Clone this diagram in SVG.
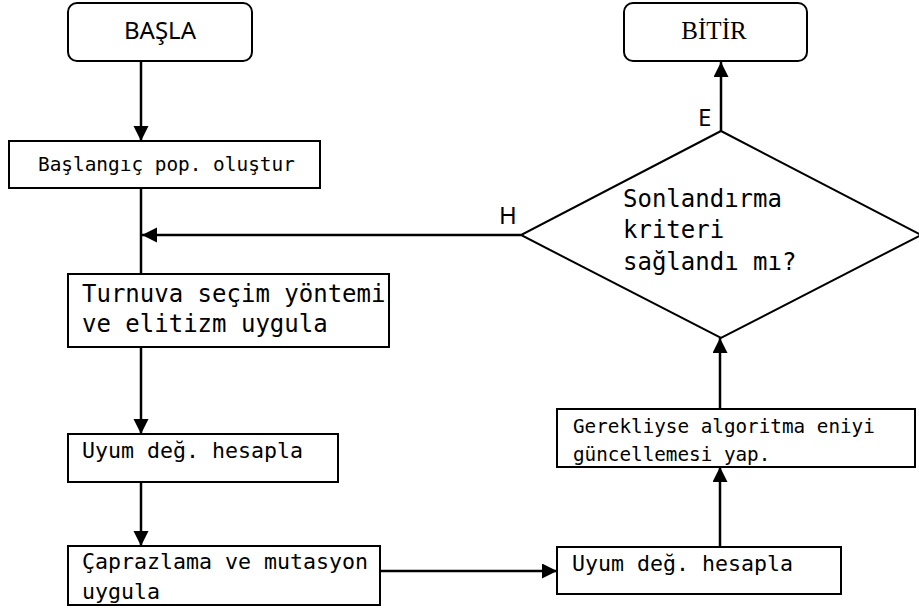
<svg xmlns="http://www.w3.org/2000/svg" width="919" height="613" viewBox="0 0 919 613">
  <style>
    .box { fill: #ffffff; stroke: #000000; stroke-width: 2; }
    .edge { fill: none; stroke: #000000; stroke-width: 2.5; marker-end: url(#arrow); }
    .line { fill: none; stroke: #000000; stroke-width: 2.5; }
    .mono { font-family: "DejaVu Sans Mono", "Liberation Mono", monospace; fill: #000000; }
    .sans { font-family: "Noto Sans", "Open Sans", sans-serif; fill: #000000; }
    .serif { font-family: "Liberation Serif", serif; fill: #000000; }
  </style>
  <defs>
    <marker id="arrow" markerUnits="userSpaceOnUse" markerWidth="16" markerHeight="16" refX="15" refY="7.5" orient="auto">
      <path d="M0,0 L15,7.5 L0,15 z" fill="#000000"/>
    </marker>
  </defs>
  <rect width="919" height="613" fill="#ffffff"/>

  <g id="connectors">
    <line class="edge" x1="141" y1="61" x2="141" y2="141"/>
    <line class="line" x1="141" y1="188" x2="141" y2="274"/>
    <line class="edge" x1="521" y1="235" x2="142" y2="235"/>
    <line class="edge" x1="141" y1="347" x2="141" y2="434"/>
    <line class="edge" x1="141" y1="482" x2="141" y2="546"/>
    <line class="edge" x1="380" y1="571" x2="557" y2="571"/>
    <line class="edge" x1="720" y1="547" x2="720" y2="467"/>
    <line class="edge" x1="720" y1="409" x2="720" y2="338"/>
    <line class="edge" x1="721" y1="131" x2="721" y2="62"/>
    <text class="sans" x="698" y="126" font-size="24">E</text>
    <text class="sans" x="499" y="224" font-size="24">H</text>
  </g>

  <g id="start">
    <rect class="box" x="68" y="3" width="184" height="58" rx="9"/>
    <text class="sans" x="160" y="39" font-size="24" text-anchor="middle">BAŞLA</text>
  </g>

  <g id="end">
    <rect class="box" x="624" y="3" width="183" height="58" rx="9"/>
    <text class="serif" x="714" y="39" font-size="25" text-anchor="middle">BİTİR</text>
  </g>

  <g id="init">
    <rect class="box" x="9" y="141" width="311" height="47"/>
    <text class="mono" x="38" y="171" font-size="19.4">Başlangıç pop. oluştur</text>
  </g>

  <g id="selection">
    <rect class="box" x="68" y="274" width="321" height="73"/>
    <text class="mono" x="82" y="302" font-size="24">Turnuva seçim yöntemi</text>
    <text class="mono" x="82" y="332" font-size="24">ve elitizm uygula</text>
  </g>

  <g id="fitness1">
    <rect class="box" x="68" y="434" width="270" height="48"/>
    <text class="mono" x="82" y="458" font-size="21.6">Uyum değ. hesapla</text>
  </g>

  <g id="crossover">
    <rect class="box" x="68" y="546" width="312" height="59"/>
    <text class="mono" x="82" y="569" font-size="21.6">Çaprazlama ve mutasyon</text>
    <text class="mono" x="82" y="599" font-size="21.6">uygula</text>
  </g>

  <g id="fitness2">
    <rect class="box" x="557" y="547" width="284" height="47"/>
    <text class="mono" x="572" y="571" font-size="21.6">Uyum değ. hesapla</text>
  </g>

  <g id="update">
    <rect class="box" x="557" y="409" width="358" height="58"/>
    <text class="mono" x="573" y="433" font-size="19.3">Gerekliyse algoritma eniyi</text>
    <text class="mono" x="573" y="461" font-size="19.3">güncellemesi yap.</text>
  </g>

  <g id="decision">
    <polygon class="box" points="721,131 921,235 721,338 521,235"/>
    <text class="mono" x="623" y="207" font-size="24">Sonlandırma</text>
    <text class="mono" x="623" y="238" font-size="24">kriteri</text>
    <text class="mono" x="623" y="270" font-size="24">sağlandı mı?</text>
  </g>
</svg>
